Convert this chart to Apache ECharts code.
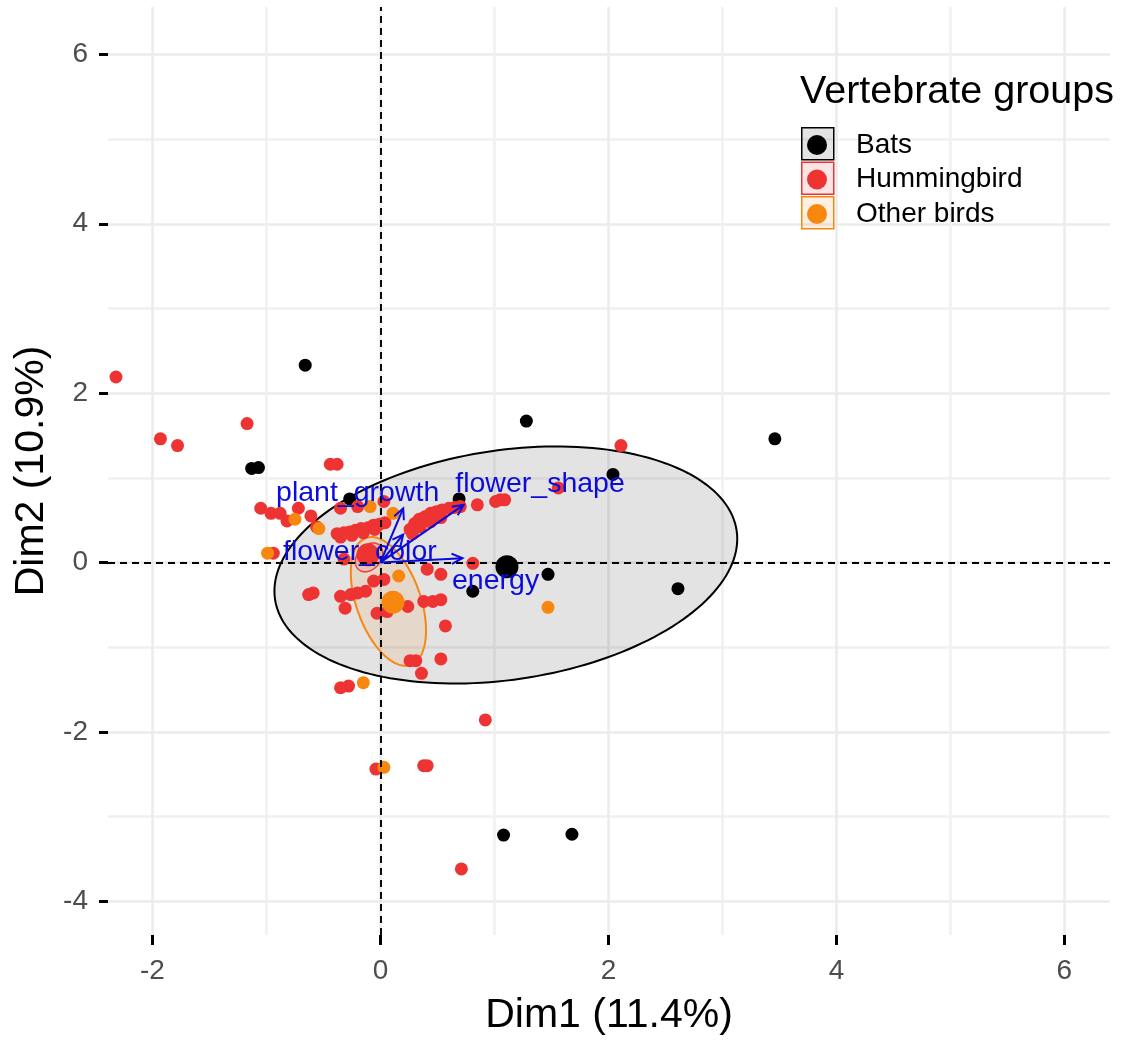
<!DOCTYPE html>
<html>
<head>
<meta charset="utf-8">
<script src="https://cdn.jsdelivr.net/npm/echarts@6/dist/echarts.min.js"></script>
<style>
  html, body { margin: 0; padding: 0; background: #fff; }
  #chart { width: 1129px; height: 1041px; }
</style>
</head>
<body>
<div id="chart"></div>
<script>
// groups and colours
const groups = ['Bats', 'Hummingbird', 'Other birds'];
const groupColors = ['#000000', '#EE3333', '#F8870F'];
const ellipseFills = ['rgba(0,0,0,0.11)', 'rgba(238,51,51,0.13)', 'rgba(248,135,15,0.12)'];

// individuals (Dim1, Dim2)
const bats = [
  [-0.66, 2.33], [-1.13, 1.11], [-1.07, 1.12], [1.28, 1.67], [3.46, 1.46],
  [2.04, 1.04], [0.69, 0.75], [-0.27, 0.75], [1.47, -0.14], [0.81, -0.34],
  [2.61, -0.31], [1.08, -3.22], [1.68, -3.21]
];
const hummingbird = [
  [-2.32, 2.19], [-1.93, 1.46], [-1.78, 1.38], [-1.17, 1.64], [2.11, 1.38],
  [-0.44, 1.16], [-0.38, 1.16], [-1.05, 0.64], [-0.96, 0.58], [-0.88, 0.58],
  [-0.82, 0.49], [-0.72, 0.64], [-0.61, 0.55], [-0.56, 0.42], [-0.94, 0.11],
  [-0.35, 0.64], [-0.20, 0.66], [0.03, 0.72],
  [-0.38, 0.34], [-0.32, 0.35], [-0.27, 0.36], [-0.22, 0.38], [-0.17, 0.40],
  [-0.11, 0.41], [-0.06, 0.44], [-0.01, 0.45], [0.04, 0.47],
  [-0.35, 0.30], [-0.25, 0.32], [-0.15, 0.35], [-0.05, 0.39],
  [0.26, 0.39], [0.30, 0.46], [0.34, 0.51], [0.39, 0.54], [0.44, 0.58],
  [0.49, 0.60], [0.54, 0.62], [0.60, 0.64], [0.65, 0.65], [0.70, 0.66],
  [0.35, 0.42], [0.44, 0.48], [0.53, 0.53], [0.28, 0.34], [0.85, 0.68],
  [1.01, 0.72], [1.05, 0.74], [1.09, 0.74], [1.56, 0.88],
  [-0.32, 0.04], [0.41, -0.08], [0.53, -0.14], [0.81, -0.01], [-0.06, -0.22],
  [0.03, -0.20], [-0.13, -0.34], [-0.63, -0.38], [-0.59, -0.36], [-0.35, -0.40],
  [-0.26, -0.38], [-0.20, -0.36], [-0.31, -0.54], [-0.03, -0.60], [0.06, -0.58],
  [0.24, -0.52], [0.38, -0.46], [0.46, -0.46], [0.53, -0.44], [0.57, -0.75],
  [0.26, -1.16], [0.31, -1.16], [0.53, -1.14], [0.36, -1.31], [-0.35, -1.48],
  [-0.28, -1.46], [0.92, -1.86], [-0.04, -2.44], [0.38, -2.40], [0.41, -2.40],
  [0.71, -3.62]
];
const otherBirds = [
  [-0.99, 0.11], [-0.75, 0.51], [-0.54, 0.40], [-0.09, 0.66], [0.11, 0.58],
  [0.16, -0.16], [-0.15, -1.42], [0.03, -2.42], [1.47, -0.53]
];
const groupPoints = [bats, hummingbird, otherBirds];

// group means
const centroids = [[1.11, -0.05], [-0.11, 0.09], [0.11, -0.47]];

// confidence ellipses: centre, half extent in x / y, cos of phase between x and y
const ellipseCenters = [[1.10, -0.03], [-0.10, 0.06], [0.07, -0.46]];
const ellipseRadii = [[2.03, 1.40], [0.12, 0.17], [0.33, 0.76]];
const ellipseTilt = [0.22, 0.3, -0.45];

// variable arrows
const variables = ['energy', 'flower_shape', 'plant_growth', 'flower_color'];
const arrowEnds = [[0.72, 0.05], [0.73, 0.68], [0.20, 0.64], [0.20, 0.33]];
const labelPos = [[1.01, -0.22], [1.40, 0.92], [-0.20, 0.82], [-0.18, 0.12]];

// axes
const xMajor = [-2, 0, 2, 4, 6];
const xMinor = [-1, 1, 3, 5];
const yMajor = [-4, -2, 0, 2, 4, 6];
const yMinor = [-3, -1, 1, 3, 5];
const xRange = [-2.39, 6.40];
const yRange = [-4.40, 6.56];

const FONT = '"Liberation Sans", Arial, sans-serif';
const BLUE = '#0C0CDA';

const chart = echarts.init(document.getElementById('chart'), null, { renderer: 'canvas' });

function ellipseSeries(i) {
  return {
    type: 'custom',
    name: groups[i] + ' ellipse',
    silent: true,
    z: 1,
    data: [ellipseCenters[i]],
    renderItem: function (params, api) {
      const c = ellipseCenters[i];
      const r = ellipseRadii[i];
      const ph = Math.acos(ellipseTilt[i]);
      const pts = [];
      for (let k = 0; k < 180; k++) {
        const t = k / 180 * Math.PI * 2;
        pts.push(api.coord([c[0] + r[0] * Math.cos(t), c[1] + r[1] * Math.cos(t + ph)]));
      }
      return {
        type: 'polygon',
        shape: { points: pts },
        style: { fill: ellipseFills[i], stroke: groupColors[i], lineWidth: i === 1 ? 1.5 : 2 }
      };
    }
  };
}

const series = [];
for (let i = 0; i < 3; i++) series.push(ellipseSeries(i));

for (let i = 0; i < 3; i++) {
  series.push({
    type: 'scatter',
    name: groups[i],
    data: groupPoints[i],
    symbolSize: 13,
    z: 3,
    itemStyle: { color: groupColors[i], opacity: 1 },
    silent: true
  });
}
for (let i = 0; i < 3; i++) {
  series.push({
    type: 'scatter',
    name: groups[i] + ' mean',
    data: [centroids[i]],
    symbolSize: 23,
    z: 4,
    itemStyle: { color: groupColors[i], opacity: 1 },
    silent: true
  });
}

// zero reference lines
series.push({
  type: 'scatter',
  name: 'ref',
  data: [],
  silent: true,
  markLine: {
    silent: true,
    symbol: 'none',
    label: { show: false },
    lineStyle: { color: '#000', type: [7, 5], width: 1.9 },
    data: [{ xAxis: 0 }, { yAxis: 0 }]
  },
  z: 2
});

// variable arrows
series.push({
  type: 'custom',
  name: 'variables',
  silent: true,
  z: 6,
  data: arrowEnds,
  renderItem: function (params, api) {
    const i = params.dataIndex;
    const o = api.coord([0, 0]);
    const e = api.coord(arrowEnds[i]);
    const ang = Math.atan2(e[1] - o[1], e[0] - o[0]);
    const h = 12, w = 0.45;
    const h1 = [e[0] - h * Math.cos(ang - w), e[1] - h * Math.sin(ang - w)];
    const h2 = [e[0] - h * Math.cos(ang + w), e[1] - h * Math.sin(ang + w)];
    const lp = api.coord(labelPos[i]);
    return {
      type: 'group',
      children: [
        { type: 'line', shape: { x1: o[0], y1: o[1], x2: e[0], y2: e[1] }, style: { stroke: BLUE, lineWidth: 2 } },
        { type: 'polyline', shape: { points: [h1, e, h2] }, style: { stroke: BLUE, lineWidth: 2, fill: null } },
        {
          type: 'text', x: lp[0], y: lp[1],
          style: { text: variables[i], fill: BLUE, font: '28.5px ' + FONT, align: 'center', verticalAlign: 'middle' }
        }
      ]
    };
  }
});

const legendKeys = groups.map(function (g, i) {
  return {
    type: 'rect',
    left: 801,
    top: 127 + i * 34.5,
    z: 3,
    shape: { width: 32, height: 32 },
    style: { fill: ellipseFills[i], stroke: groupColors[i], lineWidth: 1.5 }
  };
});

const option = {
  animation: false,
  backgroundColor: '#ffffff',
  textStyle: { fontFamily: FONT },
  grid: { left: 108, right: 19, top: 7, bottom: 101 },
  title: {
    text: 'Vertebrate groups',
    left: 800,
    top: 72,
    padding: 0,
    textStyle: { fontSize: 39.5, fontWeight: 'normal', color: '#000', fontFamily: FONT }
  },
  legend: {
    orient: 'vertical',
    left: 807,
    top: 128,
    padding: 0,
    itemWidth: 20,
    itemHeight: 20,
    itemGap: 0.5,
    icon: 'circle',
    selectedMode: false,
    z: 5,
    data: groups,
    textStyle: { fontSize: 28, color: '#000', lineHeight: 34, padding: [0, 0, 0, 24], fontFamily: FONT }
  },
  graphic: legendKeys,
  xAxis: [
    {
      type: 'value', min: xRange[0], max: xRange[1],
      axisLine: { show: false, onZero: false },
      axisTick: { show: true, customValues: xMajor, length: 10, lineStyle: { color: '#000', width: 3 } },
      axisLabel: { customValues: xMajor, fontSize: 28, color: '#4D4D4D', margin: 22, fontFamily: FONT },
      splitLine: { show: true, lineStyle: { color: '#EBEBEB', width: 2.5 } },
      name: 'Dim1 (11.4%)', nameLocation: 'middle', nameGap: 60,
      nameTextStyle: { fontSize: 41, color: '#000', fontFamily: FONT }
    },
    {
      type: 'value', min: xRange[0], max: xRange[1],
      axisLine: { show: false, onZero: false },
      axisTick: { show: false, customValues: xMinor },
      axisLabel: { show: false, customValues: xMinor },
      splitLine: { show: true, lineStyle: { color: '#F0F0F0', width: 2.5 } }
    }
  ],
  yAxis: [
    {
      type: 'value', min: yRange[0], max: yRange[1],
      axisLine: { show: false, onZero: false },
      axisTick: { show: true, customValues: yMajor, length: 9, lineStyle: { color: '#000', width: 3 } },
      axisLabel: { customValues: yMajor, fontSize: 28, color: '#4D4D4D', margin: 20, fontFamily: FONT },
      splitLine: { show: true, lineStyle: { color: '#EBEBEB', width: 2.5 } },
      name: 'Dim2 (10.9%)', nameLocation: 'middle', nameGap: 54, nameRotate: 90,
      nameTextStyle: { fontSize: 41, color: '#000', fontFamily: FONT }
    },
    {
      type: 'value', min: yRange[0], max: yRange[1],
      axisLine: { show: false, onZero: false },
      axisTick: { show: false, customValues: yMinor },
      axisLabel: { show: false, customValues: yMinor },
      splitLine: { show: true, lineStyle: { color: '#F0F0F0', width: 2.5 } }
    }
  ],
  series: series
};

chart.setOption(option);
</script>
</body>
</html>
